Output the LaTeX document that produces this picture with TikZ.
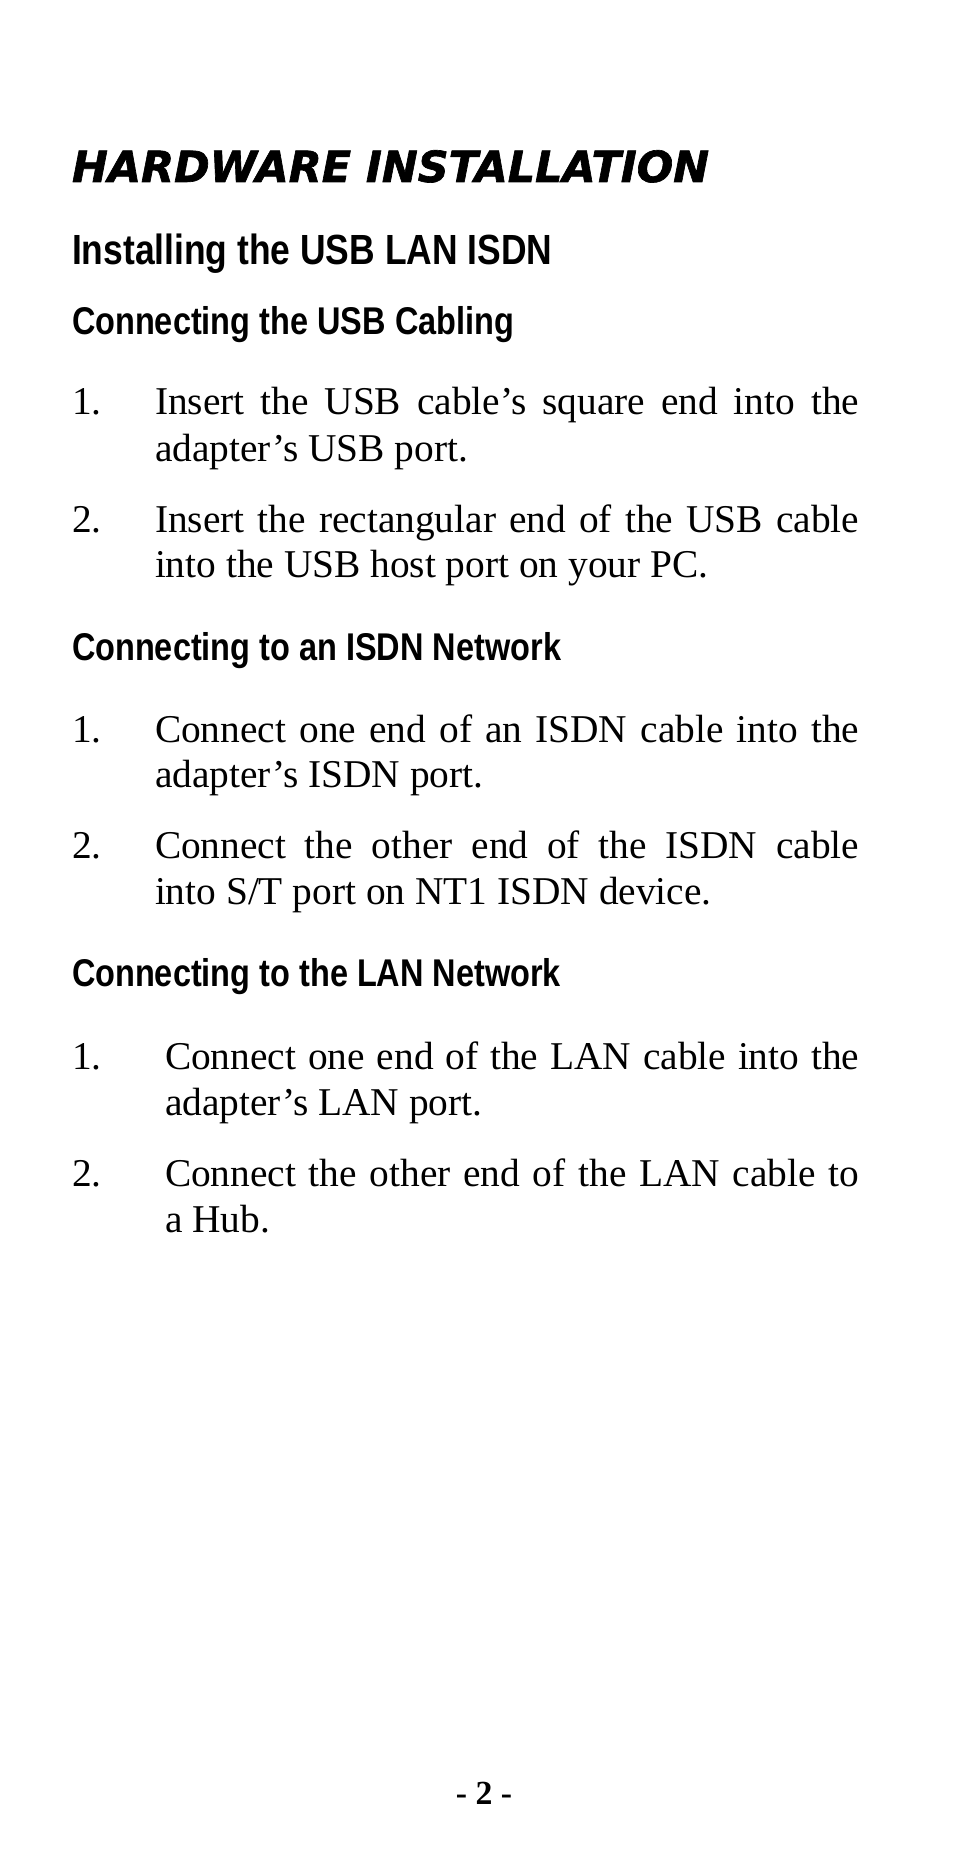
\documentclass[tikz,border=0pt]{standalone}
\usepackage{fontspec}
\setmainfont{Liberation Serif}
\newfontfamily\titlefont[FakeBold=1.5]{DejaVu Sans}
\newfontfamily\headfont[FakeStretch=0.84]{Liberation Sans}
\begin{document}
\begin{tikzpicture}[x=0.025cm,y=-0.025cm]
  \tikzstyle{every node} = [anchor=base west, inner sep=0pt, outer sep=0pt]
  \tikzset{
    title/.style={font=\titlefont\bfseries\itshape\fontsize{30.5pt}{36pt}\selectfont},
    headA/.style={font=\headfont\bfseries\fontsize{30pt}{36pt}\selectfont},
    headB/.style={font=\headfont\bfseries\fontsize{27.5pt}{32pt}\selectfont},
    body/.style={font=\fontsize{28pt}{33pt}\selectfont}
  }
  \newcommand{\fullline}[1]{\makebox[17.6cm][s]{#1}}
  \useasboundingbox (0,0) rectangle (954,1853);

  \node[title] (hw) at (72,182) {HARDWARE INSTALLATION};
  \node[headA] (inst) at (72,264) {Installing the USB LAN ISDN};

  % USB cabling
  \node[headB] (usb) at (72,334) {Connecting the USB Cabling};
  \node[body] (usbna) at (72,414) {1.};
  \node[body] (usba1) at (155,414) {\fullline{Insert the USB cable’s square end into the}};
  \node[body] (usba2) at (155,461) {adapter’s USB port.};
  \node[body] (usbnb) at (72,532) {2.};
  \node[body] (usbb1) at (155,532) {\fullline{Insert the rectangular end of the USB cable}};
  \node[body] (usbb2) at (155,577) {into the USB host port on your PC.};

  % ISDN network
  \node[headB] (isdn) at (72,660) {Connecting to an ISDN Network};
  \node[body] (isdnna) at (72,742) {1.};
  \node[body] (isdna1) at (155,742) {\fullline{Connect one end of an ISDN cable into the}};
  \node[body] (isdna2) at (155,787) {adapter’s ISDN port.};
  \node[body] (isdnnb) at (72,858) {2.};
  \node[body] (isdnb1) at (155,858) {\fullline{Connect the other end of the ISDN cable}};
  \node[body] (isdnb2) at (155,904) {into S/T port on NT1 ISDN device.};

  % LAN network
  \node[headB] (lan) at (72,986) {Connecting to the LAN Network};
  \node[body] (lanna) at (72,1069) {1.};
  \node[body] (lana1) at (165,1069) {\makebox[17.35cm][s]{Connect one end of the LAN cable into the}};
  \node[body] (lana2) at (165,1115) {adapter's LAN port.};
  \node[body] (lannb) at (72,1186) {2.};
  \node[body] (lanb1) at (165,1186) {\makebox[17.35cm][s]{Connect the other end of the LAN cable to}};
  \node[body] (lanb2) at (165,1232) {a Hub.};

  \node[body, anchor=base, font=\bfseries\fontsize{24pt}{28pt}\selectfont] (page) at (484,1804) {- 2 -};
\end{tikzpicture}
\end{document}
